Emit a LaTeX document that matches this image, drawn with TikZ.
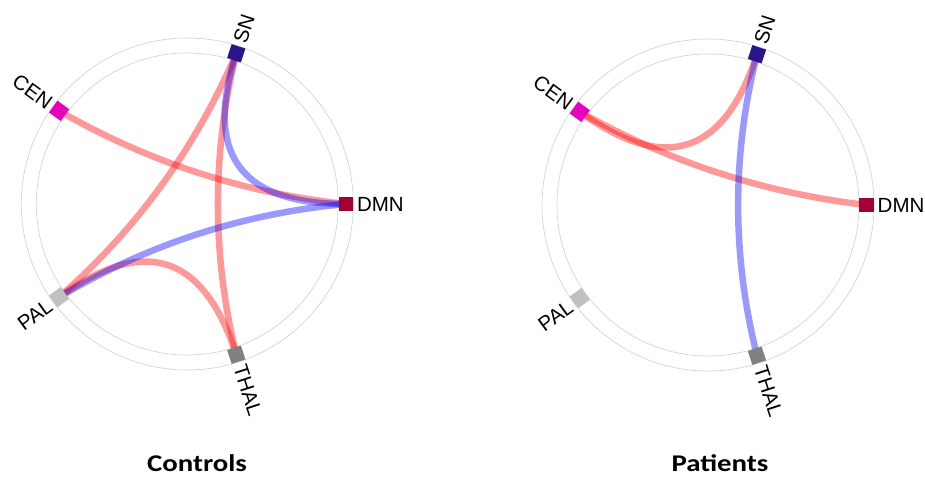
\documentclass[tikz,border=0pt]{standalone}
\usepackage{fontspec}
\setmainfont{Liberation Sans}
\newfontfamily\titlefont{Carlito}
\usetikzlibrary{calc,backgrounds}
\definecolor{snc}{RGB}{42,22,140}
\definecolor{cenc}{RGB}{232,0,192}
\definecolor{dmnc}{RGB}{165,0,52}
\definecolor{palc}{RGB}{192,192,192}
\definecolor{thalc}{RGB}{128,128,128}
\definecolor{ringc}{RGB}{212,212,212}
\tikzset{
  ring/.style={draw=ringc, line width=0.7pt},
  nodebox/.style={rectangle, minimum size=14.5pt, inner sep=0pt, draw=none},
  lbl/.style={font=\fontsize{20.5}{21}\selectfont, inner sep=0pt},
  posedge/.style={draw=red, draw opacity=0.4, line width=6.5pt},
  negedge/.style={draw=blue, draw opacity=0.4, line width=6.5pt},
  ttl/.style={font=\titlefont\bfseries\fontsize{24}{24}\selectfont, inner sep=0pt},
}
% #1 style, #2 panel prefix, #3 node a, #4 node b, #5 pull towards chord midpoint
\newcommand\chordedge[5]{%
  \coordinate (#2#3#4m) at ($(#2#3.center)!0.5!(#2#4.center)$);
  \coordinate (#2#3#4q) at ($(#2O)!#5!(#2#3#4m)$);
  \draw[#1] (#2#3.center) .. controls ($(#2#3.center)!0.6667!(#2#3#4q)$) and ($(#2#4.center)!0.6667!(#2#3#4q)$) .. (#2#4.center);
}
\newcommand\panel[3]{% #1 prefix, #2 x, #3 y
  \coordinate (#1O) at (#2,#3);
  \foreach \nm/\ang/\col in {SN/72/snc, DMN/0/dmnc, THAL/288/thalc}{
    \node[nodebox, fill=\col, rotate=\ang] (#1\nm) at ($(#1O)+(\ang:158.5)$) {};
    \node[lbl, anchor=west, rotate=\ang] (#1\nm lab) at ($(#1O)+(\ang:169.5)$) {\nm};
  }
  \foreach \nm/\ang/\col in {CEN/144/cenc, PAL/216/palc}{
    \node[nodebox, fill=\col, rotate=\ang] (#1\nm) at ($(#1O)+(\ang:158.5)$) {};
    \pgfmathsetmacro\rang{\ang-180}
    \node[lbl, anchor=east, rotate=\rang] (#1\nm lab) at ($(#1O)+(\ang:169.5)$) {\nm};
  }
}
\begin{document}
\begin{tikzpicture}[x=1pt,y=1pt]
\useasboundingbox (0,0) rectangle (925,477);
\panel{L}{187.3}{273}
\panel{R}{708}{272}
\begin{pgfonlayer}{background}
  \draw[ring] (LO) circle[radius=166];
  \draw[ring] (LO) circle[radius=151];
  \draw[ring] (RO) circle[radius=166];
  \draw[ring] (RO) circle[radius=151];
  % Controls
  \chordedge{posedge}{L}{CEN}{DMN}{0.35}
  \chordedge{posedge}{L}{SN}{PAL}{0.3}
  \chordedge{posedge}{L}{SN}{THAL}{0.25}
  \chordedge{posedge}{L}{PAL}{THAL}{0}
  \chordedge{negedge}{L}{SN}{DMN}{0}
  \chordedge{negedge}{L}{PAL}{DMN}{0.3}
  % Patients
  \chordedge{posedge}{R}{CEN}{SN}{0}
  \chordedge{posedge}{R}{CEN}{DMN}{0.38}
  \chordedge{negedge}{R}{SN}{THAL}{0.23}
\end{pgfonlayer}
\node[ttl] (tL) at (197,13.5) {\scalebox{1.2}[1]{Controls}};
\node[ttl] (tR) at (720,13.5) {\scalebox{1.2}[1]{Patients}};
\end{tikzpicture}
\end{document}
